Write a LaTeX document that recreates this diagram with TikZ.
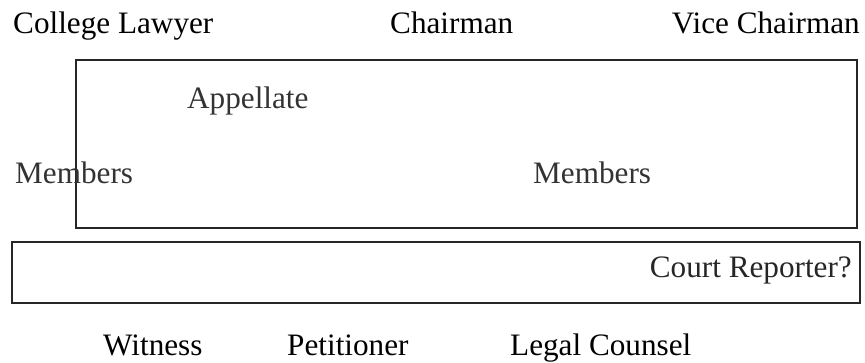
\documentclass[tikz,border=0pt]{standalone}
\usepackage{fontspec}
\setmainfont{Liberation Serif}
\usepackage{tikz}

\begin{document}
\begin{tikzpicture}[x=1pt,y=-1pt,
    lbl/.style={anchor=base west,inner sep=0pt,font=\fontsize{31.2}{37}\selectfont},
    lblr/.style={lbl,anchor=base east},
    panel/.style={line width=1.3pt,draw=black!85}]
  \useasboundingbox (0,0) rectangle (865,362);
  % boxes
  \draw[panel] (76,60) rectangle (857,228);
  \draw[panel] (12,242) rectangle (860,303);
  % top row
  \node[lbl]  (lawyer) at (13,33)  {College Lawyer};
  \node[lbl]  (chair)  at (390,33) {Chairman};
  \node[lblr] (vice)   at (860,33) {Vice Chairman};
  % inside the panel
  \node[lbl,text=black!80] (appellate) at (187,108) {Appellate};
  \node[lbl,text=black!80] (membersL)  at (15,183)  {Members};
  \node[lbl,text=black!80] (membersR)  at (533,183) {Members};
  \node[lblr,text=black!85] (reporter) at (852,277) {Court Reporter?};
  % bottom row
  \node[lbl] (witness)    at (103,355) {Witness};
  \node[lbl] (petitioner) at (287,355) {Petitioner};
  \node[lbl] (counsel)    at (510,355) {Legal Counsel};
\end{tikzpicture}
\end{document}
